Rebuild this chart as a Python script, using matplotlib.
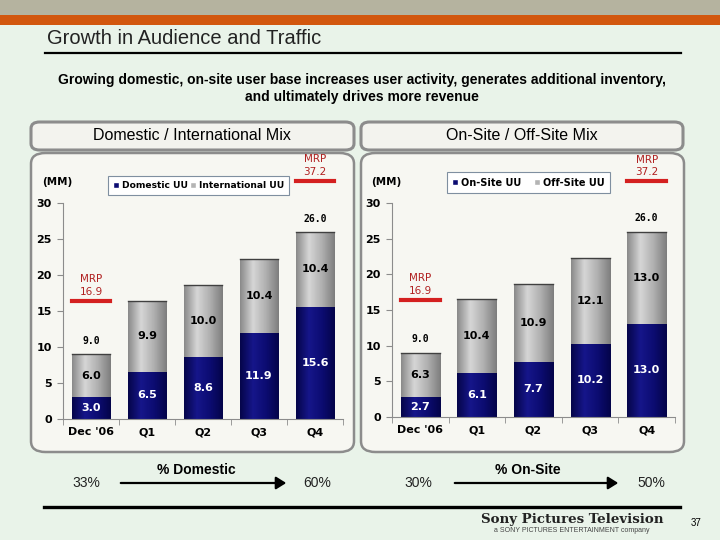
import numpy as np
import matplotlib
matplotlib.use("Agg")
import matplotlib.pyplot as plt
from matplotlib.patches import FancyBboxPatch, Rectangle, FancyArrowPatch
from matplotlib.colors import LinearSegmentedColormap
from matplotlib.lines import Line2D

categories = ["Dec '06", "Q1", "Q2", "Q3", "Q4"]
domestic = [3.0, 6.5, 8.6, 11.9, 15.6]
international = [6.0, 9.9, 10.0, 10.4, 10.4]
onsite = [2.7, 6.1, 7.7, 10.2, 13.0]
offsite = [6.3, 10.4, 10.9, 12.1, 13.0]
total_labels = {0: "9.0", 4: "26.0"}
mrp_labels = {0: "16.9", 4: "37.2"}
yticks = [0, 5, 10, 15, 20, 25, 30]

NARROW = ["Liberation Sans Narrow", "Liberation Sans", "DejaVu Sans"]
BG = "#e9f3e9"
PANEL = "#f7f7f2"
BORDER = "#8c8c8c"

navy_cm = LinearSegmentedColormap.from_list("navy", ["#05054a", "#16168a", "#0c0c72", "#04044a"])
gray_cm = LinearSegmentedColormap.from_list("gray", ["#8a8a8a", "#d6d6d6", "#b0b0b0", "#7e7e7e"])
grad = np.linspace(0, 1, 64).reshape(1, -1)

fig = plt.figure(figsize=(7.2, 5.4), dpi=100, facecolor=BG)


def px(x, y):
    return x / 720, 1 - y / 540


def box(x0, y0, x1, y1, fc, ec, lw, r=0.012):
    a, b = px(x0, y1)
    c, d = px(x1, y0)
    p = FancyBboxPatch((a, b), c - a, d - b, boxstyle="round,pad=0,rounding_size=%f" % r,
                       transform=fig.transFigure, fc=fc, ec=ec, lw=lw, zorder=-5)
    fig.patches.append(p)


def text(x, y, s, **kw):
    fx, fy = px(x, y)
    fig.text(fx, fy, s, **kw)


# top bands
fig.patches.append(Rectangle(px(0, 15), 1, 15 / 540, transform=fig.transFigure, fc="#b5b39f", ec="none", zorder=-5))
fig.patches.append(Rectangle(px(0, 25), 1, 10 / 540, transform=fig.transFigure, fc="#d2570e", ec="none", zorder=-5))

text(47, 38, "Growth in Audience and Traffic", fontsize=14.5, family=NARROW, color="#222222", va="center")
fig.add_artist(Line2D([45 / 720, 681 / 720], [1 - 53 / 540] * 2, transform=fig.transFigure, color="black", lw=1.6))
text(362, 80, "Growing domestic, on-site user base increases user activity, generates additional inventory,",
     fontsize=10, family=NARROW, weight="bold", ha="center", va="center")
text(362, 97, "and ultimately drives more revenue",
     fontsize=10, family=NARROW, weight="bold", ha="center", va="center")

# header boxes and panels
box(31, 122, 354, 150, "#f3f3ee", BORDER, 2.2)
box(361, 122, 683, 150, "#f3f3ee", BORDER, 2.2)
text(192, 136, "Domestic / International Mix", fontsize=11.5, family=NARROW, ha="center", va="center")
text(522, 136, "On-Site / Off-Site Mix", fontsize=11.5, family=NARROW, ha="center", va="center")
box(31, 153, 354, 452, PANEL, BORDER, 1.8, r=0.02)
box(361, 153, 684, 452, PANEL, BORDER, 1.8, r=0.02)


def chart(rect, bottom_vals, top_vals, names, leg_kw, leg_size=7):
    ax = fig.add_axes(rect)
    ax.set_facecolor("none")
    x = np.arange(len(categories))
    b1 = ax.bar(x, bottom_vals, 0.69, color="#0c0c72", label=names[0], zorder=2)
    b2 = ax.bar(x, top_vals, 0.69, bottom=bottom_vals, color="#b4b4b4", label=names[1], zorder=2)
    for bars, cm in ((b1, navy_cm), (b2, gray_cm)):
        for r in bars:
            bx, by = r.get_x(), r.get_y()
            im = ax.imshow(grad, extent=[bx, bx + r.get_width(), by, by + r.get_height()],
                           aspect="auto", cmap=cm, zorder=2.5, interpolation="bilinear")
            im.set_clip_path(r)
    for r in b2:
        ax.plot([r.get_x(), r.get_x() + r.get_width()], [r.get_y() + r.get_height()] * 2,
                color="#404040", lw=1, zorder=3)
    for i in range(len(categories)):
        ax.text(x[i], bottom_vals[i] / 2, "%.1f" % bottom_vals[i], ha="center", va="center",
                color="white", fontsize=8, weight="bold", zorder=4)
        ax.text(x[i], bottom_vals[i] + top_vals[i] / 2, "%.1f" % top_vals[i], ha="center", va="center",
                color="black", fontsize=8, weight="bold", zorder=4)
    for i, s in total_labels.items():
        ax.annotate(s, (x[i], bottom_vals[i] + top_vals[i]), xytext=(0, 6), textcoords="offset points",
                    ha="center", va="bottom", fontsize=7, weight="bold", family="DejaVu Sans Mono")
    for i, s in mrp_labels.items():
        ly = 16.4 if i == 0 else 33.1
        ax.plot([x[i] - 0.34, x[i] + 0.34], [ly, ly], color="#d42020", lw=3, clip_on=False, zorder=5)
        ax.text(x[i], ly + 0.6, "MRP\n" + s, ha="center", va="bottom", color="#b02020",
                fontsize=7.5, linespacing=1.3, clip_on=False)
    ax.set_xlim(-0.5, 4.5)
    ax.set_ylim(0, 30)
    ax.set_yticks(yticks)
    ax.set_xticks(x)
    ax.set_xticklabels(categories)
    ax.set_xticks(np.arange(-0.5, 5, 1), minor=True)
    ax.tick_params(axis="x", which="major", length=0, pad=6)
    ax.tick_params(axis="x", which="minor", length=4, color=BORDER)
    ax.tick_params(axis="y", length=4, color=BORDER, pad=4)
    for lab in ax.get_xticklabels() + ax.get_yticklabels():
        lab.set_fontsize(8)
        lab.set_fontweight("bold")
    for s in ("top", "right"):
        ax.spines[s].set_visible(False)
    for s in ("left", "bottom"):
        ax.spines[s].set_color(BORDER)
    ax.text(-0.02, 1.1, "(MM)", transform=ax.transAxes, fontsize=7.5, weight="bold", ha="center", va="center")
    leg = ax.legend(ncol=2, prop={"size": leg_size, "weight": "bold"}, handlelength=0.6, handleheight=0.6,
                    handletextpad=0.3, borderpad=0.55, fancybox=False, framealpha=1,
                    edgecolor="#7f8fa0", **leg_kw)
    leg.get_frame().set_linewidth(0.8)
    for h in leg.legend_handles:
        h.set_edgecolor("white")
    return ax


chart([63 / 720, 1 - 418.7 / 540, 280 / 720, 215.4 / 540], domestic, international,
      ["Domestic UU", "International UU"],
      dict(loc="center", bbox_to_anchor=(0.484, 1.083), columnspacing=0.3), leg_size=6.6)
chart([392 / 720, 1 - 416.7 / 540, 283 / 720, 213.4 / 540], onsite, offsite,
      ["On-Site UU", "Off-Site UU"],
      dict(loc="lower left", bbox_to_anchor=(0.177, 1.025, 0.61, 0.11), mode="expand",
           columnspacing=0.3))

# bottom percentages
text(196, 470, "% Domestic", fontsize=10, family=NARROW, weight="bold", ha="center", va="center")
text(528, 470, "% On-Site", fontsize=10, family=NARROW, weight="bold", ha="center", va="center")
for xs, s in ((86, "33%"), (317, "60%"), (418, "30%"), (651, "50%")):
    text(xs, 483, s, fontsize=10, family=NARROW, ha="center", va="center", color="#222222")
for x0, x1 in ((118, 289), (452, 621)):
    fig.add_artist(FancyArrowPatch(px(x0, 483), px(x1, 483), transform=fig.transFigure,
                   arrowstyle="-|>,head_length=4,head_width=2.5", color="black", lw=1.6,
                   mutation_scale=1.5))

fig.add_artist(Line2D([44 / 720, 680 / 720], [1 - 507 / 540] * 2, transform=fig.transFigure, color="black", lw=2.4))
text(572, 519, "Sony Pictures Television", fontsize=9.6, family="DejaVu Serif", weight="bold",
     ha="center", va="center", color="#222222")
text(572, 531, "a SONY PICTURES ENTERTAINMENT company", fontsize=5, family=NARROW,
     ha="center", va="center", color="#444444")
text(696, 523, "37", fontsize=7, family=NARROW, ha="center", va="center")

fig.savefig("out.png", dpi=100, facecolor=BG)
